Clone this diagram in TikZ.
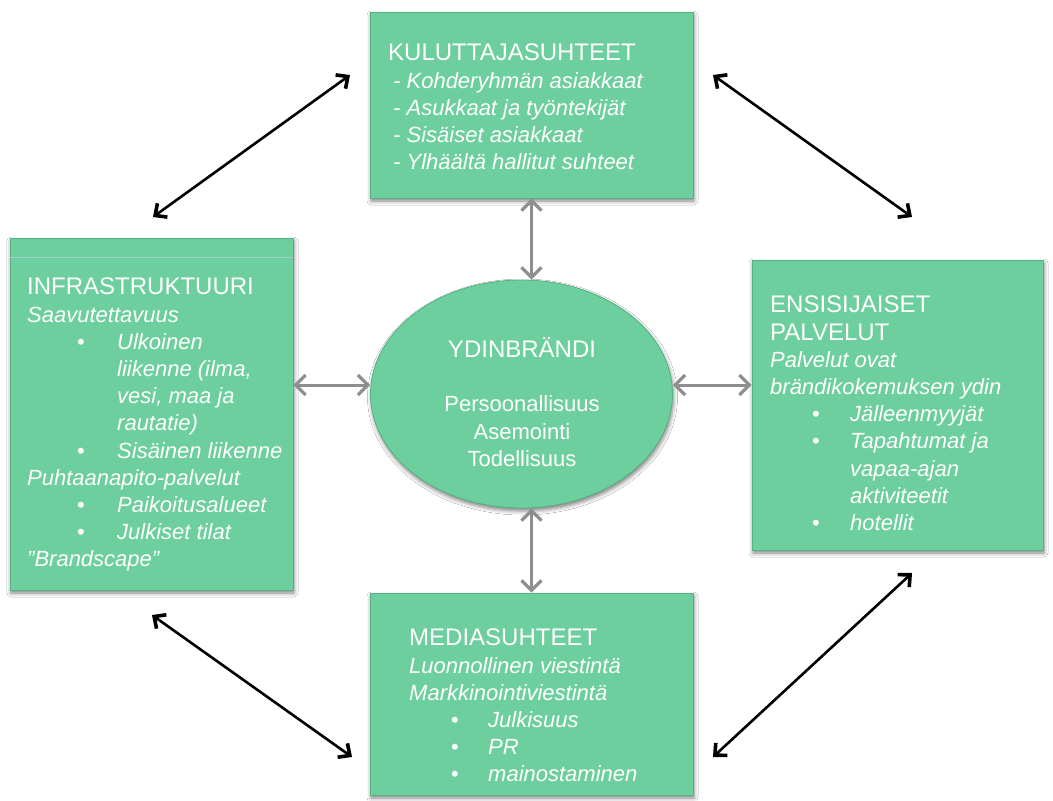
\documentclass[tikz,border=0pt]{standalone}
\usepackage{fontspec}
\setmainfont{Liberation Sans}
\usetikzlibrary{arrows.meta,shadows.blur,shapes.geometric}

\definecolor{leaf}{HTML}{6DCF9E}
\definecolor{leafedge}{HTML}{55B082}
\definecolor{bevel}{HTML}{9ECFC6}
\definecolor{linkgray}{HTML}{8E8E8E}

% bullet row: #1 = bullet offset, #2 = text offset, #3 = item text
\newcommand\bulletrow[3]{\makebox[#2][l]{\hspace*{#1}\upshape\textbullet}#3}

\begin{document}
\begin{tikzpicture}[x=1pt,y=-1pt,
  panel/.style={draw=leafedge, line width=0.8pt, fill=leaf, inner sep=0pt,
    blur shadow={shadow xshift=1pt, shadow yshift=-3pt, shadow blur radius=4pt, shadow opacity=50}},
  copy/.style={text=white, align=left, inner sep=0pt, anchor=north west,
    font=\fontsize{22}{27.2}\selectfont},
  grayArrow/.style={draw=linkgray, line width=3pt, line cap=round,
    {Straight Barb[length=10pt,width=20pt,line width=3.2pt]}-{Straight Barb[length=10pt,width=20pt,line width=3.2pt]}},
  blackArrow/.style={draw=black, line width=2.6pt, line cap=round,
    {Straight Barb[length=9pt,width=17pt,line width=3.6pt]}-{Straight Barb[length=9pt,width=17pt,line width=3.6pt]}}]

\useasboundingbox (0,0) rectangle (1053,801);
\fill[white] (0,0) rectangle (1053,801);

% panels
\node[panel, minimum width=323pt, minimum height=186pt] (kul) at (531.5,105) {};
\node[panel, minimum width=283pt, minimum height=352pt] (infra) at (151.5,414) {};
\node[panel, minimum width=291pt, minimum height=290pt] (ens) at (897.5,405) {};
\node[panel, minimum width=323pt, minimum height=202pt] (media) at (531.5,694) {};
\node[panel, ellipse, minimum width=302pt, minimum height=228pt] (core) at (521.5,394) {};

\draw[bevel, line width=0.6pt] ([yshift=-20pt]infra.north west) -- ([yshift=-20pt]infra.north east);

% panel texts
\node[copy] (kulText) at (388,44) {{\fontsize{24}{27.2}\selectfont KULUTTAJASUHTEET}\\
  {\itshape\hspace*{5pt}- Kohderyhmän asiakkaat}\\
  {\itshape\hspace*{5pt}- Asukkaat ja työntekijät}\\
  {\itshape\hspace*{5pt}- Sisäiset asiakkaat}\\
  {\itshape\hspace*{5pt}- Ylhäältä hallitut suhteet}};

\node[copy] (infraText) at (27,278) {{\fontsize{24}{27.2}\selectfont INFRASTRUKTUURI}\\
  {\itshape Saavutettavuus}\\
  {\itshape\bulletrow{50pt}{90pt}{Ulkoinen}}\\
  {\itshape\hspace*{90pt}liikenne (ilma,}\\
  {\itshape\hspace*{90pt}vesi, maa ja}\\
  {\itshape\hspace*{90pt}rautatie)}\\
  {\itshape\bulletrow{50pt}{90pt}{Sisäinen liikenne}}\\
  {\itshape Puhtaanapito-palvelut}\\
  {\itshape\bulletrow{50pt}{90pt}{Paikoitusalueet}}\\
  {\itshape\bulletrow{50pt}{90pt}{Julkiset tilat}}\\
  {\itshape ”Brandscape”}};

\node[copy] (ensText) at (770,296) {{\fontsize{24}{27.2}\selectfont ENSISIJAISET}\\
  {\fontsize{24}{27.2}\selectfont PALVELUT}\\
  {\itshape Palvelut ovat}\\
  {\itshape brändikokemuksen ydin}\\
  {\itshape\bulletrow{42pt}{80pt}{Jälleenmyyjät}}\\
  {\itshape\bulletrow{42pt}{80pt}{Tapahtumat ja}}\\
  {\itshape\hspace*{80pt}vapaa-ajan}\\
  {\itshape\hspace*{80pt}aktiviteetit}\\
  {\itshape\bulletrow{42pt}{80pt}{hotellit}}};

\node[copy] (mediaText) at (409,629) {{\fontsize{24}{27.2}\selectfont MEDIASUHTEET}\\
  {\itshape Luonnollinen viestintä}\\
  {\itshape Markkinointiviestintä}\\
  {\itshape\bulletrow{42pt}{79pt}{Julkisuus}}\\
  {\itshape\bulletrow{42pt}{79pt}{PR}}\\
  {\itshape\bulletrow{42pt}{79pt}{mainostaminen}}};

\node[text=white, align=center, inner sep=0pt, font=\fontsize{22}{27.2}\selectfont]
  (coreText) at (522,402) {{\fontsize{24}{27.2}\selectfont YDINBRÄNDI}\\[27pt]
  Persoonallisuus\\ Asemointi\\ Todellisuus};

% grey links between the core and the panels
\draw[grayArrow] (kul.south) -- (kul.south |- core.north);
\draw[grayArrow] (core.south -| media.north) -- (media.north);
\draw[grayArrow] ([yshift=9pt]core.west -| infra.east) -- ([yshift=9pt]core.west);
\draw[grayArrow] ([yshift=9pt]core.east) -- ([yshift=9pt]core.east -| ens.west);

% black links between neighbouring panels
\coordinate (nwA) at (153,217); \coordinate (nwB) at (350,75);
\coordinate (neA) at (713,75);  \coordinate (neB) at (912,217);
\coordinate (swA) at (152,615); \coordinate (swB) at (352,757);
\coordinate (seA) at (713,757); \coordinate (seB) at (912,573);
\draw[blackArrow] (nwA) -- (nwB);
\draw[blackArrow] (neA) -- (neB);
\draw[blackArrow] (swA) -- (swB);
\draw[blackArrow] (seA) -- (seB);
\end{tikzpicture}
\end{document}
